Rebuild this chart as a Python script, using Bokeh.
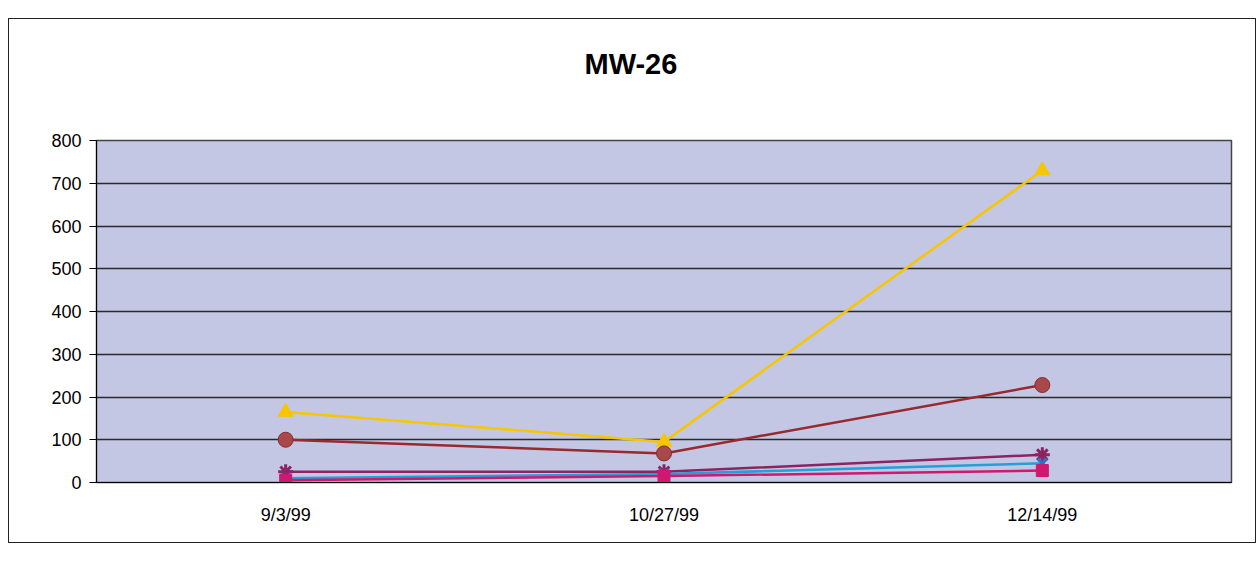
from bokeh.plotting import figure
from bokeh.models import FixedTicker, Title
from bokeh.embed import file_html
from bokeh.resources import INLINE

dates = ["9/3/99", "10/27/99", "12/14/99"]
s_yellow = [165, 95, 730]
s_red = [100, 68, 228]
s_purple = [25, 25, 65]
s_cyan = [10, 20, 45]
s_magenta = [5, 15, 28]
y_ticks = [0, 100, 200, 300, 400, 500, 600, 700, 800]

p = figure(x_range=dates, y_range=(0, 800), width=1248, height=525,
           output_backend="svg", toolbar_location=None, title_location=None,
           min_border_left=87, min_border_top=121, min_border_bottom=62, min_border_right=26)
p.styles = {"margin-top": "18px", "margin-left": "8px", "border": "1px solid #222"}
p.background_fill_color = "#c3c7e3"
p.border_fill_color = "white"
p.outline_line_color = "#444444"
p.outline_line_width = 1.5

# spacer between plot and title
p.add_layout(Title(text=" ", text_font_size="1px", standoff=58), "above")
p.add_layout(Title(text="MW-26", align="left", offset=488, standoff=0,
                   text_font="Liberation Sans", text_font_style="bold",
                   text_font_size="29px", text_color="black"), "above")

p.xgrid.grid_line_color = None
p.ygrid.grid_line_color = "#2a2a2a"
p.ygrid.grid_line_width = 1.5
p.yaxis.ticker = FixedTicker(ticks=y_ticks)

for ax in (p.xaxis[0], p.yaxis[0]):
    ax.axis_line_color = "black"
    ax.major_label_text_font = "Liberation Sans"
    ax.major_label_text_font_size = "18px"
    ax.major_label_text_color = "black"
    ax.minor_tick_line_color = None
p.yaxis.major_tick_line_color = "black"
p.yaxis.major_tick_out = 7
p.yaxis.major_tick_in = 0
p.yaxis.major_label_standoff = 8
p.xaxis.major_tick_line_color = None
p.xaxis.major_label_standoff = 16

p.line(dates, s_yellow, line_color="#f7c600", line_width=2.5)
p.scatter(dates, s_yellow, marker="triangle", size=15, fill_color="#f7c600", line_color="#f7c600")

p.line(dates, s_red, line_color="#99282f", line_width=2.5)
p.scatter(dates, s_red, marker="circle", size=15, fill_color="#a8484a", line_color="#8a2a2a")

p.line(dates, s_purple, line_color="#8c2463", line_width=2.5)
p.scatter(dates, s_purple, marker="asterisk", size=15, line_color="#8c2463", line_width=3)

p.line(dates, s_cyan, line_color="#22a0d8", line_width=2.5)
p.scatter(dates, s_cyan, marker="x", size=13, line_color="#2a70d0", line_width=3)

p.line(dates, s_magenta, line_color="#d01870", line_width=2.5)
p.scatter(dates, s_magenta, marker="square", size=12, fill_color="#d01870", line_color="#d01870")

open("out.html", "w").write(file_html(p, INLINE))
